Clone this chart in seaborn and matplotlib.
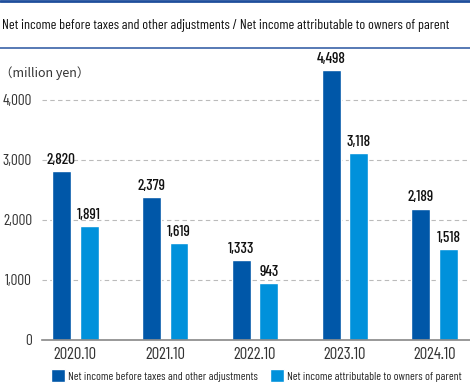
import pandas as pd
import matplotlib.pyplot as plt
import seaborn as sns
from matplotlib.lines import Line2D
from matplotlib.patches import Patch

years = ["2020.10", "2021.10", "2022.10", "2023.10", "2024.10"]
pretax = [2820, 2379, 1333, 4498, 2189]
attributable = [1891, 1619, 943, 3118, 1518]
series_names = ["Net income before taxes and other adjustments",
                "Net income attributable to owners of parent"]
colors = ["#0057a8", "#0091db"]

df = pd.DataFrame({
    "Year": years * 2,
    "Value": pretax + attributable,
    "Series": [series_names[0]] * 5 + [series_names[1]] * 5,
})

sns.set_style("white")
plt.rcParams["font.family"] = ["Barlow Condensed", "DejaVu Sans"]

fig = plt.figure(figsize=(4.7, 3.85), dpi=100)
ax = fig.add_axes([0.089, 0.117, 0.911, 0.717])

sns.barplot(data=df, x="Year", y="Value", hue="Series", palette=colors,
            width=0.62, gap=0.32, ax=ax, legend=False, saturation=1)

for container in ax.containers:
    ax.bar_label(container, labels=[f"{int(v.get_height()):,}" for v in container],
                 padding=3, fontsize=11, fontweight="medium", color="#111111", clip_on=False)

ax.set_ylim(0, 4600)
ax.set_xlim(-0.37, 4.39)
ax.set_yticks([0, 1000, 2000, 3000, 4000])
ax.set_yticklabels([f"{t:,}" for t in [0, 1000, 2000, 3000, 4000]])
ax.yaxis.grid(True, linestyle=(0, (4, 3)), color="#bbbbbb", linewidth=0.8)
ax.set_axisbelow(True)
for s in ["top", "right", "left"]:
    ax.spines[s].set_visible(False)
ax.spines["bottom"].set_color("#888888")
ax.spines["bottom"].set_linewidth(1.2)
ax.tick_params(axis="y", length=0, labelsize=11, colors="#333333", pad=7)
ax.tick_params(axis="x", length=0, labelsize=12, colors="#333333", pad=5)
ax.set_xlabel("")
ax.set_ylabel("")

fig.text(0.0, 0.81, "（million yen）", fontsize=9, color="#333333", ha="left", va="center",
         family=["Noto Sans CJK JP", "DejaVu Sans"])

fig.text(0.004, 0.935, "Net income before taxes and other adjustments / Net income attributable to owners of parent",
         fontsize=10.1, ha="left", va="center", color="#111111")
fig.add_artist(Line2D([0, 1], [0.997, 0.997], color="#1f4e9c", linewidth=2))
fig.add_artist(Line2D([0, 1], [0.875, 0.875], color="#3a62a8", linewidth=1.2))

handles = [Patch(facecolor=c) for c in colors]
fig.legend(handles, series_names, loc="lower center", bbox_to_anchor=(0.545, -0.02),
           ncol=2, frameon=False, fontsize=8.4, handlelength=1.2, handleheight=1.3,
           handletextpad=0.3, columnspacing=1.0)

fig.savefig("out.png", dpi=100)
